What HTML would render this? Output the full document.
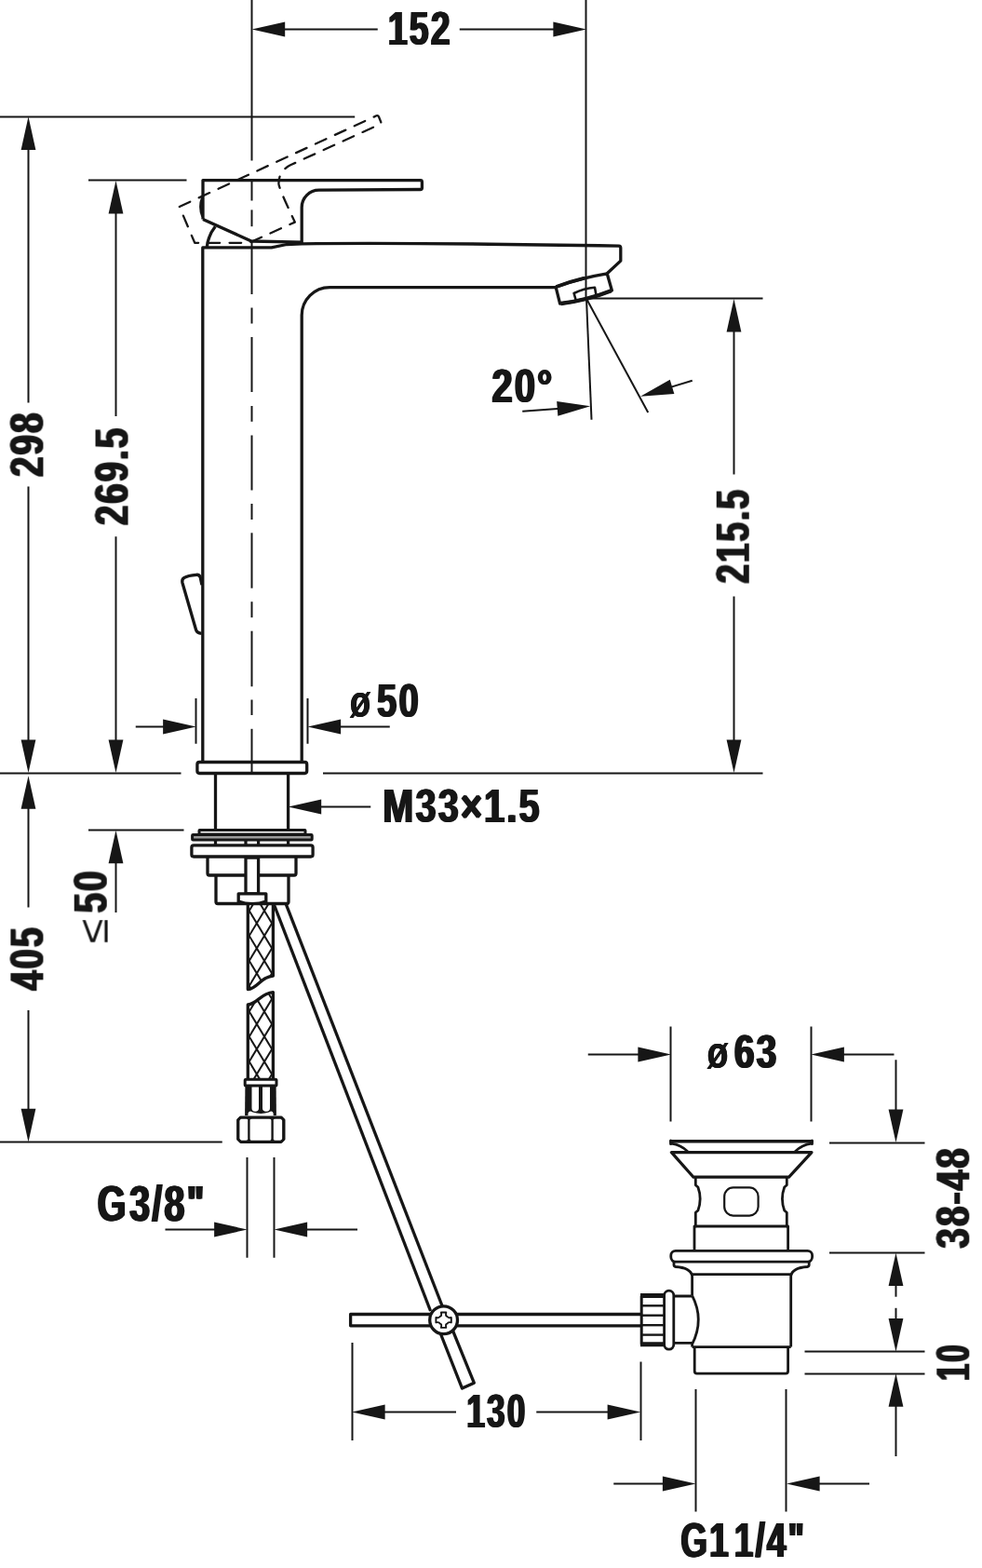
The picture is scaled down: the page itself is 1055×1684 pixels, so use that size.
<!DOCTYPE html>
<html lang="en"><head><meta charset="utf-8"><title>Technical drawing</title>
<style>
html,body{margin:0;padding:0;background:#fff}
#page{position:relative;width:1055px;height:1684px;overflow:hidden;background:#fff}
svg{display:block;position:absolute;left:0;top:0;will-change:transform}
.t{position:absolute;left:0;top:0;margin:0;padding:0;font:bold 240px/1 "Liberation Sans",sans-serif;color:#161616;white-space:pre;font-kerning:none;font-variant-ligatures:none;transform-origin:0 0;will-change:transform}
.r{font-weight:normal}
</style></head>
<body>
<div id="page">
<svg width="1055" height="1684" viewBox="0 0 1055 1684" fill="none" stroke="#161616" stroke-linecap="butt" stroke-linejoin="round">
<g id="dims">
<line x1="270.5" y1="0" x2="270.5" y2="172.5" stroke-width="2"/>
<line x1="270.5" y1="194.1" x2="270.5" y2="215.5" stroke-width="2"/>
<line x1="270.5" y1="225.4" x2="270.5" y2="243.2" stroke-width="2"/>
<line x1="270.5" y1="258.1" x2="270.5" y2="316" stroke-width="2"/>
<line x1="270.5" y1="330.5" x2="270.5" y2="347.5" stroke-width="2"/>
<line x1="270.5" y1="362" x2="270.5" y2="421" stroke-width="2"/>
<line x1="270.5" y1="436" x2="270.5" y2="452.8" stroke-width="2"/>
<line x1="270.5" y1="467.5" x2="270.5" y2="526.5" stroke-width="2"/>
<line x1="270.5" y1="541" x2="270.5" y2="558" stroke-width="2"/>
<line x1="270.5" y1="572.3" x2="270.5" y2="631.7" stroke-width="2"/>
<line x1="270.5" y1="646.2" x2="270.5" y2="663.2" stroke-width="2"/>
<line x1="270.5" y1="677.7" x2="270.5" y2="737.3" stroke-width="2"/>
<line x1="270.5" y1="751.5" x2="270.5" y2="768" stroke-width="2"/>
<line x1="270.5" y1="782.8" x2="270.5" y2="830" stroke-width="2"/>
<line x1="305.2" y1="31.5" x2="405.75" y2="31.5" stroke-width="2"/>
<line x1="493.75" y1="31.5" x2="595.4" y2="31.5" stroke-width="2"/>
<polygon points="270.6,31.5 306.2,23.6 306.2,39.4" fill="#161616" stroke="none"/>
<polygon points="630,31.5 594.4,39.4 594.4,23.6" fill="#161616" stroke="none"/>
<line x1="629.5" y1="0" x2="629.5" y2="320.75" stroke-width="2"/>
<line x1="0" y1="125.5" x2="381.2" y2="125.5" stroke-width="2"/>
<line x1="95" y1="193.5" x2="200.5" y2="193.5" stroke-width="2"/>
<polygon points="30.5,125.3 38.4,160.9 22.6,160.9" fill="#161616" stroke="none"/>
<polygon points="30.5,830.1 22.6,794.5 38.4,794.5" fill="#161616" stroke="none"/>
<line x1="30.5" y1="159.6" x2="30.5" y2="432.5" stroke-width="2"/>
<line x1="30.5" y1="522.5" x2="30.5" y2="795.5" stroke-width="2"/>
<polygon points="124.5,194 132.4,229.6 116.6,229.6" fill="#161616" stroke="none"/>
<polygon points="124.5,830.1 116.6,794.5 132.4,794.5" fill="#161616" stroke="none"/>
<line x1="124.5" y1="228.6" x2="124.5" y2="447" stroke-width="2"/>
<line x1="124.5" y1="576.25" x2="124.5" y2="795.5" stroke-width="2"/>
<line x1="0" y1="830.5" x2="194.5" y2="830.5" stroke-width="2"/>
<line x1="347" y1="830.5" x2="819.5" y2="830.5" stroke-width="2"/>
<line x1="630" y1="320.5" x2="819.5" y2="320.5" stroke-width="2"/>
<polygon points="788.5,321 796.4,356.6 780.6,356.6" fill="#161616" stroke="none"/>
<polygon points="788.5,830.1 780.6,794.5 796.4,794.5" fill="#161616" stroke="none"/>
<line x1="788.5" y1="355.6" x2="788.5" y2="509.5" stroke-width="2"/>
<line x1="788.5" y1="640.5" x2="788.5" y2="795.5" stroke-width="2"/>
<line x1="630" y1="320.75" x2="635.5" y2="450.75" stroke-width="2"/>
<line x1="630" y1="320.75" x2="696.25" y2="443" stroke-width="2"/>
<line x1="561.25" y1="441.75" x2="602.21" y2="438.66" stroke-width="2"/>
<polygon points="634.25,436.25 599.34,446.8 598.16,431.05" fill="#161616" stroke="none"/>
<line x1="743.75" y1="408.75" x2="718.64" y2="416.41" stroke-width="2"/>
<polygon points="688,425.75 719.75,407.81 724.36,422.92" fill="#161616" stroke="none"/>
<line x1="210.5" y1="750" x2="210.5" y2="798.75" stroke-width="2"/>
<line x1="330.5" y1="750" x2="330.5" y2="798.75" stroke-width="2"/>
<line x1="145.75" y1="780.5" x2="176.15" y2="780.5" stroke-width="2"/>
<polygon points="210.75,780.5 175.15,788.4 175.15,772.6" fill="#161616" stroke="none"/>
<line x1="365.1" y1="780.5" x2="418.75" y2="780.5" stroke-width="2"/>
<polygon points="330.5,780.5 366.1,772.6 366.1,788.4" fill="#161616" stroke="none"/>
<polygon points="309.6,866.5 345.2,858.6 345.2,874.4" fill="#161616" stroke="none"/>
<line x1="344.2" y1="866.5" x2="398.25" y2="866.5" stroke-width="2"/>
<line x1="95" y1="891.5" x2="197.5" y2="891.5" stroke-width="2"/>
<polygon points="124.5,891.75 132.4,927.35 116.6,927.35" fill="#161616" stroke="none"/>
<line x1="124.5" y1="926.35" x2="124.5" y2="980" stroke-width="2"/>
<polygon points="30.5,833.2 38.4,868.8 22.6,868.8" fill="#161616" stroke="none"/>
<polygon points="30.5,1226.4 22.6,1190.8 38.4,1190.8" fill="#161616" stroke="none"/>
<line x1="30.5" y1="867.8" x2="30.5" y2="974.5" stroke-width="2"/>
<line x1="30.5" y1="1085" x2="30.5" y2="1191.8" stroke-width="2"/>
<line x1="0" y1="1226.5" x2="238.75" y2="1226.5" stroke-width="2"/>
<line x1="265.5" y1="1243" x2="265.5" y2="1350.75" stroke-width="2"/>
<line x1="294.5" y1="1243" x2="294.5" y2="1350.75" stroke-width="2"/>
<line x1="177.5" y1="1320.5" x2="231.15" y2="1320.5" stroke-width="2"/>
<polygon points="265.75,1320.5 230.15,1328.4 230.15,1312.6" fill="#161616" stroke="none"/>
<line x1="329.1" y1="1320.5" x2="384" y2="1320.5" stroke-width="2"/>
<polygon points="294.5,1320.5 330.1,1312.6 330.1,1328.4" fill="#161616" stroke="none"/>
<line x1="378.5" y1="1442" x2="378.5" y2="1547" stroke-width="2"/>
<line x1="688.5" y1="1462.5" x2="688.5" y2="1547" stroke-width="2"/>
<polygon points="378,1516.5 413.6,1508.6 413.6,1524.4" fill="#161616" stroke="none"/>
<polygon points="688.25,1516.5 652.65,1524.4 652.65,1508.6" fill="#161616" stroke="none"/>
<line x1="412.6" y1="1516.5" x2="490" y2="1516.5" stroke-width="2"/>
<line x1="576.25" y1="1516.5" x2="653.65" y2="1516.5" stroke-width="2"/>
<line x1="720.5" y1="1102.5" x2="720.5" y2="1204.5" stroke-width="2"/>
<line x1="871.5" y1="1102.5" x2="871.5" y2="1204.5" stroke-width="2"/>
<line x1="631.75" y1="1132.5" x2="686.4" y2="1132.5" stroke-width="2"/>
<polygon points="721,1132.5 685.4,1140.4 685.4,1124.6" fill="#161616" stroke="none"/>
<line x1="905.85" y1="1132.5" x2="960.5" y2="1132.5" stroke-width="2"/>
<polygon points="871.25,1132.5 906.85,1124.6 906.85,1140.4" fill="#161616" stroke="none"/>
<line x1="962.5" y1="1138.25" x2="962.5" y2="1192.4" stroke-width="2"/>
<polygon points="962.5,1227 954.6,1191.4 970.4,1191.4" fill="#161616" stroke="none"/>
<line x1="891" y1="1227.5" x2="993.5" y2="1227.5" stroke-width="2"/>
<line x1="891" y1="1345.5" x2="993.5" y2="1345.5" stroke-width="2"/>
<line x1="864.5" y1="1451.5" x2="993.5" y2="1451.5" stroke-width="2"/>
<line x1="864.5" y1="1475.5" x2="993.5" y2="1475.5" stroke-width="2"/>
<polygon points="962.5,1345.5 970.4,1381.1 954.6,1381.1" fill="#161616" stroke="none"/>
<polygon points="962.5,1451.7 954.6,1416.1 970.4,1416.1" fill="#161616" stroke="none"/>
<line x1="962.5" y1="1380" x2="962.5" y2="1392.7" stroke-width="2"/>
<line x1="962.5" y1="1404.8" x2="962.5" y2="1417" stroke-width="2"/>
<polygon points="962.5,1475.1 970.4,1510.7 954.6,1510.7" fill="#161616" stroke="none"/>
<line x1="962.5" y1="1509.7" x2="962.5" y2="1564" stroke-width="2"/>
<line x1="747.5" y1="1492" x2="747.5" y2="1623.5" stroke-width="2"/>
<line x1="844.5" y1="1492" x2="844.5" y2="1623.5" stroke-width="2"/>
<line x1="659.25" y1="1593.5" x2="712.9" y2="1593.5" stroke-width="2"/>
<polygon points="747.5,1593.5 711.9,1601.4 711.9,1585.6" fill="#161616" stroke="none"/>
<line x1="879.6" y1="1593.5" x2="934" y2="1593.5" stroke-width="2"/>
<polygon points="845,1593.5 880.6,1585.6 880.6,1601.4" fill="#161616" stroke="none"/>
</g>
<g id="faucet">
<path d="M 217.8,817.5 V 265.9 H 291.7 L 308,262.5 L 324.2,261.8 Q 440,260.3 664.8,264.2 Q 666.8,264.3 666.8,266.3 V 280.1 L 652.2,293.8" stroke-width="3.3"/>
<path d="M 597.3,308.6 H 354.2 A 30 30 0 0 0 324.2,338.6 V 817.5" stroke-width="3.3"/>
<path d="M 597.1,308.2 Q 623,298.6 652.2,293.8 L 657.4,312 Q 631,322.5 601.6,326.2 Z" stroke-width="3.3"/>
<path d="M 602.6,326 Q 631.5,322.2 656.6,312.2" stroke-width="4.4"/>
<path d="M 597.6,308 Q 612,302.4 628,298.6" stroke-width="4"/>
<path d="M 618.6,322 L 616.6,315 Q 627,309.8 639,308.8 L 640.4,316.5" stroke-width="2.6"/>
<path d="M 218,235.5 V 193.6 H 451.6 Q 453.4,193.6 453.4,195.4 V 201.8 Q 453.4,203.5 451.6,203.5 L 342.7,204.2 A 18.5 18.5 0 0 0 324.2,222.7 V 261" stroke-width="3.3"/>
<path d="M 218,235.5 L 270,259 L 324.2,260.2" stroke-width="3.3"/>
<path d="M 217.6,211.5 Q 213.4,222 217.6,232.5" stroke-width="2.8"/>
<path d="M 222.3,265.5 Q 223.5,253 231.3,243.3" stroke-width="3.3"/>
<path d="M 192.8,222 L 404.4,124.3 Q 406.2,123.6 406.9,125.3 L 409.2,131 Q 409.8,132.6 408.2,133.4 L 312,177.3 Q 299.2,183.8 299.4,197.5 Q 300,203 316.8,238.6 L 270.3,259.6 L 266,260.8 L 209.2,260.8 Z" stroke-width="2.3" stroke-dasharray="12.6 10.4" stroke-linecap="round"/>
<path d="M 216.9,628.2 L 215.2,620 Q 214.3,617 211,617.3 Q 202,618 197.6,620.6 Q 195.2,622.3 195.9,625.7 L 210.6,676.5 Q 211.6,680 216.5,680.3" stroke-width="3.3"/>
<rect x="211.9" y="818.5" width="117.8" height="12" rx="2.4" stroke-width="3.3"/>
<line x1="231.5" y1="830" x2="231.5" y2="891" stroke-width="3.3"/>
<line x1="309.6" y1="830" x2="309.6" y2="891" stroke-width="3.3"/>
<rect x="214" y="891.5" width="114" height="4.6" rx="0.5" stroke-width="3"/>
<rect x="206.6" y="896.4" width="128.6" height="5.6" rx="0.8" stroke-width="3" fill="#9a9a9a"/>
<line x1="231.5" y1="902" x2="231.5" y2="907.8" stroke-width="3.3"/>
<line x1="264" y1="902" x2="264" y2="907.8" stroke-width="3.3"/>
<line x1="277.6" y1="902" x2="277.6" y2="907.8" stroke-width="3.3"/>
<line x1="309.6" y1="902" x2="309.6" y2="907.8" stroke-width="3.3"/>
<rect x="205.9" y="907.9" width="130.2" height="12.1" rx="2.2" stroke-width="3.3"/>
<path d="M 223,920 V 938 Q 223,940 225,940 H 316 Q 318,940 318,938 V 920" stroke-width="3.3"/>
<path d="M 232,940 V 968.5 Q 232,970.5 234,970.5 H 308 Q 310,970.5 310,968.5 V 940" stroke-width="3.3"/>
<rect x="264" y="921" width="13.6" height="39" rx="0" stroke-width="3.3" fill="#fff"/>
<path d="M 256.2,970 V 959.8 H 285.8 V 970" stroke-width="3.3" fill="#fff"/>
<path d="M 256.2,967.4 Q 271,972.6 285.8,967.4 V 970.5 H 256.2 Z" stroke-width="2" fill="#161616"/>
<path d="M 266.3,970.5 V 1062.6 C 277,1061.5 280,1049 293.4,1048.1 V 970.5" stroke-width="3.3"/>
<path d="M 266.3,1158.8 V 1079 C 277,1078 280,1066.5 293.4,1065.6 V 1158.8" stroke-width="3.3"/>
<clipPath id="h1"><path d="M 266.3,970.5 V 1062.6 C 277,1061.5 280,1049 293.4,1048.1 V 970.5 Z"/></clipPath>
<clipPath id="h2"><path d="M 266.3,1158.8 V 1079 C 277,1078 280,1066.5 293.4,1065.6 V 1158.8 Z"/></clipPath>
<g clip-path="url(#h1)">
<line x1="266.3" y1="921.99" x2="293.4" y2="966.7" stroke-width="2"/>
<line x1="266.3" y1="926.61" x2="293.4" y2="881.89" stroke-width="2"/>
<line x1="266.3" y1="948.89" x2="293.4" y2="993.61" stroke-width="2"/>
<line x1="266.3" y1="953.51" x2="293.4" y2="908.8" stroke-width="2"/>
<line x1="266.3" y1="975.79" x2="293.4" y2="1020.5" stroke-width="2"/>
<line x1="266.3" y1="980.41" x2="293.4" y2="935.7" stroke-width="2"/>
<line x1="266.3" y1="1002.69" x2="293.4" y2="1047.4" stroke-width="2"/>
<line x1="266.3" y1="1007.31" x2="293.4" y2="962.6" stroke-width="2"/>
<line x1="266.3" y1="1029.59" x2="293.4" y2="1074.31" stroke-width="2"/>
<line x1="266.3" y1="1034.21" x2="293.4" y2="989.5" stroke-width="2"/>
<line x1="266.3" y1="1056.49" x2="293.4" y2="1101.2" stroke-width="2"/>
<line x1="266.3" y1="1061.11" x2="293.4" y2="1016.39" stroke-width="2"/>
<line x1="266.3" y1="1083.39" x2="293.4" y2="1128.11" stroke-width="2"/>
<line x1="266.3" y1="1088.01" x2="293.4" y2="1043.3" stroke-width="2"/>
<line x1="266.3" y1="1110.29" x2="293.4" y2="1155" stroke-width="2"/>
<line x1="266.3" y1="1114.91" x2="293.4" y2="1070.19" stroke-width="2"/>
</g>
<g clip-path="url(#h2)">
<line x1="266.3" y1="1003.39" x2="293.4" y2="1048.1" stroke-width="2"/>
<line x1="266.3" y1="1008.01" x2="293.4" y2="963.29" stroke-width="2"/>
<line x1="266.3" y1="1030.29" x2="293.4" y2="1075" stroke-width="2"/>
<line x1="266.3" y1="1034.91" x2="293.4" y2="990.19" stroke-width="2"/>
<line x1="266.3" y1="1057.19" x2="293.4" y2="1101.9" stroke-width="2"/>
<line x1="266.3" y1="1061.81" x2="293.4" y2="1017.1" stroke-width="2"/>
<line x1="266.3" y1="1084.09" x2="293.4" y2="1128.8" stroke-width="2"/>
<line x1="266.3" y1="1088.71" x2="293.4" y2="1043.99" stroke-width="2"/>
<line x1="266.3" y1="1110.99" x2="293.4" y2="1155.7" stroke-width="2"/>
<line x1="266.3" y1="1115.61" x2="293.4" y2="1070.89" stroke-width="2"/>
<line x1="266.3" y1="1137.89" x2="293.4" y2="1182.61" stroke-width="2"/>
<line x1="266.3" y1="1142.51" x2="293.4" y2="1097.8" stroke-width="2"/>
<line x1="266.3" y1="1164.79" x2="293.4" y2="1209.5" stroke-width="2"/>
<line x1="266.3" y1="1169.41" x2="293.4" y2="1124.69" stroke-width="2"/>
<line x1="266.3" y1="1191.69" x2="293.4" y2="1236.4" stroke-width="2"/>
<line x1="266.3" y1="1196.31" x2="293.4" y2="1151.6" stroke-width="2"/>
</g>
<path d="M 263.4,1165 H 296.6 L 296.9,1198 H 263.1 Z" fill="#161616" stroke="none"/>
<path d="M 270.5,1164 V 1190 Q 270.5,1193.8 274.25,1193.8 Q 278,1193.8 278,1190 V 1164 Z" fill="#fff" stroke="none"/>
<path d="M 282,1164 V 1190 Q 282,1193.8 286,1193.8 Q 290,1193.8 290,1190 V 1164 Z" fill="#fff" stroke="none"/>
<path d="M 266.4,1198.5 L 266.6,1195.5 Q 268,1192 271.5,1194.6 Q 280.2,1197.4 289,1194.6 Q 292.4,1192 293.6,1195.5 L 293.8,1198.5 Z" fill="#fff" stroke="none"/>
<rect x="263.2" y="1159.2" width="33.8" height="6.8" rx="1" stroke-width="3" fill="#fff"/>
<path d="M 258.6,1199.9 H 302 L 305,1202.9 V 1223.5 L 302,1226.5 H 258.6 L 255.6,1223.5 V 1202.9 Z" stroke-width="3" fill="#fff"/>
<rect x="256.4" y="1200.6" width="11" height="25.2" rx="3" stroke-width="1.9"/>
<rect x="267.4" y="1200.6" width="25.2" height="25.2" rx="3.5" stroke-width="1.9"/>
<rect x="292.6" y="1200.6" width="11.6" height="25.2" rx="3" stroke-width="1.9"/>
</g>
<g id="rod">
<line x1="294.6" y1="972" x2="462.55" y2="1408" stroke-width="3.3"/>
<line x1="307.4" y1="971.3" x2="476.41" y2="1406" stroke-width="3.3"/>
<path d="M 473.2,1432 L 496.5,1491.1 L 509.3,1485.2 L 486,1427.8" stroke-width="3.3"/>
<path d="M 462.5,1411.5 H 376.6 V 1423.8 H 462.5" stroke-width="3.3"/>
<path d="M 491,1411.5 H 689 M 491,1423.8 H 689" stroke-width="3.3"/>
<circle cx="476.6" cy="1417.7" r="14.9" stroke-width="3.3" fill="#fff"/>
<path d="M 473.9,1409.5 L 479.3,1409.5 Q 478.3,1414 480.5,1413.8 Q 481.3,1416 484.8,1415 L 484.8,1420.4 Q 481.3,1419.4 480.5,1421.6 Q 478.3,1421.4 479.3,1425.9 L 473.9,1425.9 Q 474.9,1421.4 472.7,1421.6 Q 471.9,1419.4 468.4,1420.4 L 468.4,1415 Q 471.9,1416 472.7,1413.8 Q 474.9,1414 473.9,1409.5 Z" stroke-width="1.9"/>
</g>
<g id="drain">
<path d="M 721,1225.8 H 872" stroke-width="3.4" stroke-linecap="round"/>
<path d="M 720.6,1225 V 1228.4 M 872.4,1225 V 1228.4" stroke-width="3" stroke-linecap="round"/>
<path d="M 721.4,1228.2 Q 731.5,1229.6 738.8,1236.8 M 871.6,1228.2 Q 861.5,1229.6 854.2,1236.8" stroke-width="2.8"/>
<path d="M 721.4,1237.6 H 872 L 847.6,1264.2 H 745 Z" stroke-width="3.2"/>
<path d="M 747.3,1264.2 V 1272.8 L 749.9,1275 C 752.8,1283 752.8,1292 749.9,1300 L 747.3,1302.2 V 1317 H 746 V 1343" stroke-width="2.8"/>
<path d="M 845.3,1264.2 V 1272.8 L 842.7,1275 C 839.8,1283 839.8,1292 842.7,1300 L 845.3,1302.2 V 1317 H 846.6 V 1343" stroke-width="2.8"/>
<line x1="746" y1="1317" x2="846.6" y2="1317" stroke-width="2.8"/>
<rect x="778.2" y="1275.4" width="36.4" height="30.2" rx="9.5" stroke-width="2.2"/>
<rect x="720.8" y="1343.3" width="151.8" height="11.8" rx="5" stroke-width="2.8"/>
<path d="M 724,1355 V 1358.6 Q 724,1360.2 726,1360.5 Q 741.5,1361.5 743.6,1370 M 869.2,1355 V 1358.6 Q 869.2,1360.2 867.2,1360.5 Q 851.8,1361.5 849.7,1370" stroke-width="2.8"/>
<line x1="743.6" y1="1368.7" x2="849.7" y2="1368.7" stroke-width="2.8"/>
<path d="M 743.6,1368 V 1391 M 743.6,1442 V 1446.6 M 849.7,1368 V 1446.6" stroke-width="2.8"/>
<line x1="743.6" y1="1446.6" x2="849.7" y2="1446.6" stroke-width="2.8"/>
<path d="M 746.2,1446.6 V 1472.6 Q 746.2,1475.2 748.8,1475.2 H 844 Q 846.6,1475.2 846.6,1472.6 V 1446.6" stroke-width="2.8"/>
<path d="M 743.6,1391.4 Q 757,1417.5 743.6,1443.6" stroke-width="2.8"/>
<path d="M 724,1392 H 743.6 M 724,1442.4 H 743.6" stroke-width="2.8"/>
<rect x="713.6" y="1386.2" width="10.2" height="63" rx="5.1" stroke-width="2.8"/>
<path d="M 713.4,1392 H 689.2 V 1443.6 H 713.4" stroke-width="3"/>
<path d="M 688,1391.6 H 713.4 M 688,1443.8 H 713.4" stroke-width="5"/>
<line x1="689" y1="1402.3" x2="713.4" y2="1402.3" stroke-width="2.4"/>
<line x1="689" y1="1412.7" x2="713.4" y2="1412.7" stroke-width="2.4"/>
<line x1="689" y1="1423.2" x2="713.4" y2="1423.2" stroke-width="2.4"/>
<line x1="689" y1="1433.6" x2="713.4" y2="1433.6" stroke-width="2.4"/>
</g>
</svg>
<div class="t" style="transform:matrix(0.1559,0,0,0.2082,416.91,6.11);letter-spacing:13.47px;text-shadow:6.74px 0 0 #161616,-6.74px 0 0 #161616">152</div>
<div class="t" style="transform:matrix(0,-0.1608,0.2094,0,4.37,512.14);letter-spacing:13.06px;text-shadow:6.53px 0 0 #161616,-6.53px 0 0 #161616">298</div>
<div class="t" style="transform:matrix(0,-0.1594,0.2094,0,95.47,564.13);letter-spacing:13.18px;text-shadow:6.59px 0 0 #161616,-6.59px 0 0 #161616">269.5</div>
<div class="t" style="transform:matrix(0,-0.1531,0.2094,0,762.67,626.57);letter-spacing:13.72px;text-shadow:6.86px 0 0 #161616,-6.86px 0 0 #161616">215.5</div>
<div class="t" style="transform:matrix(0.1671,0,0,0.2094,528.36,389.77);letter-spacing:12.57px;text-shadow:6.28px 0 0 #161616,-6.28px 0 0 #161616">20°</div>
<div class="t" style="transform:matrix(0.1528,0,0,0.2036,375.85,728.75);letter-spacing:5.24px;text-shadow:2.62px 0 0 #161616,-2.62px 0 0 #161616">ø</div>
<div class="t" style="transform:matrix(0.1594,0,0,0.2088,405.07,727.59);letter-spacing:13.17px;text-shadow:6.59px 0 0 #161616,-6.59px 0 0 #161616">50</div>
<div class="t" style="transform:matrix(0.1655,0,0,0.2094,411.30,840.57);letter-spacing:12.69px;text-shadow:6.35px 0 0 #161616,-6.35px 0 0 #161616">M33×1.5</div>
<div class="t r" style="transform:matrix(0,-0.2030,0.1875,0,77.24,1013.17)">≤</div>
<div class="t" style="transform:matrix(0,-0.1598,0.2094,0,72.67,980.43);letter-spacing:13.14px;text-shadow:6.57px 0 0 #161616,-6.57px 0 0 #161616">50</div>
<div class="t" style="transform:matrix(0,-0.1577,0.2094,0,4.37,1063.58);letter-spacing:13.32px;text-shadow:6.66px 0 0 #161616,-6.66px 0 0 #161616">405</div>
<div class="t" style="transform:matrix(0.1655,0,0,0.2200,104.60,1266.70);letter-spacing:12.69px;text-shadow:6.35px 0 0 #161616,-6.35px 0 0 #161616">G<span style="margin-left:9.07px">3</span>/8&quot;</div>
<div class="t" style="transform:matrix(0.1468,0,0,0.2088,501.35,1490.59);letter-spacing:14.3px;text-shadow:7.15px 0 0 #161616,-7.15px 0 0 #161616">130</div>
<div class="t" style="transform:matrix(0.1556,0,0,0.2036,759.64,1105.55);letter-spacing:5.14px;text-shadow:2.57px 0 0 #161616,-2.57px 0 0 #161616">ø</div>
<div class="t" style="transform:matrix(0.1624,0,0,0.2088,788.84,1104.49);letter-spacing:12.93px;text-shadow:6.46px 0 0 #161616,-6.46px 0 0 #161616">63</div>
<div class="t" style="transform:matrix(0,-0.1615,0.2094,0,999.27,1340.62);letter-spacing:13px;text-shadow:6.5px 0 0 #161616,-6.5px 0 0 #161616">38-48</div>
<div class="t" style="transform:matrix(0,-0.1355,0.2094,0,999.27,1482.88);letter-spacing:15.49px;text-shadow:7.75px 0 0 #161616,-7.75px 0 0 #161616">10</div>
<div class="t" style="transform:matrix(0.1542,0,0,0.2162,731.26,1627.83);letter-spacing:13.61px;text-shadow:6.81px 0 0 #161616,-6.81px 0 0 #161616">G1<span style="font-size:44.31px"> </span>1/4&quot;</div>
</div>
</body></html>
